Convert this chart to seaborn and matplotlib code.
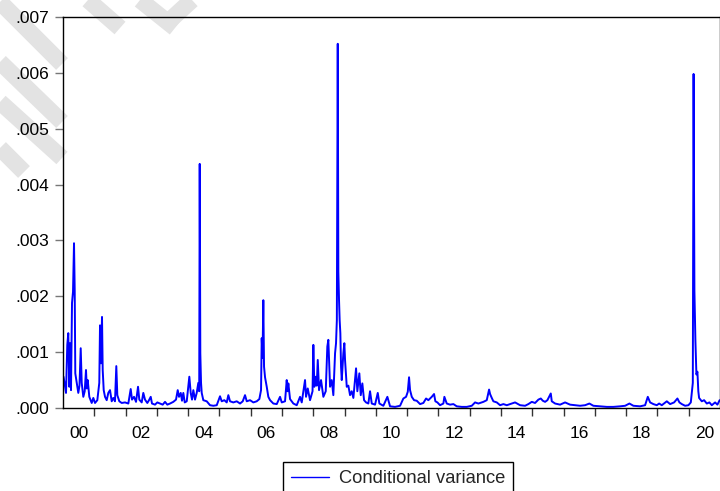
import matplotlib
matplotlib.use("Agg")
import numpy as np
import pandas as pd
import seaborn as sns
import matplotlib.pyplot as plt
from matplotlib.ticker import FixedLocator, FixedFormatter, FuncFormatter, NullFormatter
from matplotlib.lines import Line2D

# ---------------- data (decimal year, conditional variance) ----------------
years = [
    # 2000
    2000.016, 2000.048, 2000.096, 2000.137, 2000.169, 2000.201, 2000.224, 2000.256, 2000.288, 2000.320,
    2000.352, 2000.374, 2000.393, 2000.438, 2000.489, 2000.527, 2000.566, 2000.598, 2000.649, 2000.694,
    2000.735, 2000.761, 2000.790, 2000.841, 2000.918, 2000.969,
    # 2001
    2001.023, 2001.097, 2001.160, 2001.183, 2001.215, 2001.247, 2001.269, 2001.301, 2001.343, 2001.397,
    2001.448, 2001.503, 2001.557, 2001.608, 2001.662, 2001.704, 2001.736, 2001.800, 2001.877, 2001.982,
    # 2002-2003
    2002.088, 2002.164, 2002.206, 2002.270, 2002.334, 2002.398, 2002.439, 2002.516, 2002.567, 2002.621,
    2002.695, 2002.749, 2002.804, 2002.845, 2002.941,
    2003.015, 2003.101, 2003.187, 2003.261, 2003.334, 2003.421, 2003.526, 2003.612, 2003.667, 2003.708,
    2003.763, 2003.804, 2003.846, 2003.891, 2003.955,
    # 2004
    2004.038, 2004.082, 2004.124, 2004.166, 2004.220, 2004.274, 2004.325, 2004.354, 2004.370, 2004.389,
    2004.412, 2004.434, 2004.485, 2004.594, 2004.699, 2004.805, 2004.914,
    # 2005
    2005.019, 2005.073, 2005.157, 2005.233, 2005.285, 2005.339, 2005.444, 2005.553, 2005.659, 2005.745,
    2005.818, 2005.873, 2005.978,
    # 2006
    2006.084, 2006.192, 2006.276, 2006.330, 2006.352, 2006.378, 2006.403, 2006.426, 2006.458, 2006.512,
    2006.563, 2006.618, 2006.723, 2006.832, 2006.937, 2006.992,
    # 2007
    2007.097, 2007.151, 2007.177, 2007.203, 2007.257, 2007.363, 2007.471, 2007.577, 2007.631, 2007.736,
    2007.768, 2007.823, 2007.896, 2007.976,
    # 2008
    2008.002, 2008.034, 2008.079, 2008.111, 2008.143, 2008.184, 2008.248, 2008.322, 2008.398, 2008.449,
    2008.481, 2008.536, 2008.590, 2008.641, 2008.696, 2008.727, 2008.753, 2008.782, 2008.801, 2008.823,
    2008.843, 2008.865, 2008.887, 2008.910, 2008.961, 2008.993,
    # 2009
    2009.015, 2009.070, 2009.121, 2009.175, 2009.229, 2009.281, 2009.367, 2009.408, 2009.472, 2009.517,
    2009.568, 2009.623, 2009.686, 2009.760, 2009.814, 2009.869, 2009.974,
    # 2010
    2010.061, 2010.112, 2010.240, 2010.368, 2010.454, 2010.614, 2010.774, 2010.879, 2010.965,
    # 2011
    2011.020, 2011.061, 2011.093, 2011.148, 2011.221, 2011.307, 2011.413, 2011.518, 2011.605, 2011.678,
    2011.787, 2011.860, 2011.902, 2011.966,
    # 2012
    2012.052, 2012.158, 2012.190, 2012.266, 2012.372, 2012.478, 2012.586, 2012.746, 2012.906,
    # 2013
    2013.066, 2013.171, 2013.277, 2013.437, 2013.545, 2013.619, 2013.651, 2013.705, 2013.756, 2013.865,
    2013.970,
    # 2014
    2014.076, 2014.185, 2014.290, 2014.450, 2014.610, 2014.770, 2014.875, 2014.984,
    # 2015
    2015.089, 2015.195, 2015.272, 2015.336, 2015.409, 2015.483, 2015.591, 2015.623, 2015.729, 2015.889,
    # 2016-2017
    2016.048, 2016.208, 2016.368, 2016.528, 2016.688, 2016.825, 2016.953,
    2017.167, 2017.382, 2017.593, 2017.807, 2017.967,
    # 2018-2019
    2018.104, 2018.232, 2018.446, 2018.606, 2018.692, 2018.766, 2018.871, 2018.980,
    2019.054, 2019.140, 2019.300, 2019.405, 2019.533, 2019.639, 2019.703, 2019.779, 2019.885, 2019.990,
    # 2020
    2020.067, 2020.131, 2020.156, 2020.182, 2020.214, 2020.246, 2020.278, 2020.307, 2020.332, 2020.418,
    2020.492, 2020.578, 2020.661, 2020.738, 2020.844, 2020.917, 2020.988,
]

variance = [
    # 2000
    0.00056, 0.00045, 0.00027, 0.00113, 0.00134, 0.00038, 0.00116, 0.00032, 0.00188, 0.00208,
    0.00295, 0.00211, 0.00062, 0.00045, 0.00027, 0.00040, 0.00107, 0.00045, 0.00020, 0.00030,
    0.00068, 0.00035, 0.00050, 0.00020, 0.00009, 0.00018,
    # 2001
    0.00009, 0.00014, 0.00045, 0.00148, 0.00080, 0.00163, 0.00068, 0.00032, 0.00020, 0.00014,
    0.00027, 0.00032, 0.00012, 0.00018, 0.00012, 0.00075, 0.00023, 0.00012, 0.00009, 0.00010,
    # 2002-2003
    0.00008, 0.00034, 0.00015, 0.00020, 0.00011, 0.00038, 0.00015, 0.00010, 0.00027, 0.00015,
    0.00009, 0.00014, 0.00020, 0.00008, 0.00006,
    0.00010, 0.00008, 0.00006, 0.00011, 0.00006, 0.00008, 0.00011, 0.00015, 0.00032, 0.00020,
    0.00027, 0.00013, 0.00027, 0.00010, 0.00012,
    # 2004
    0.00056, 0.00027, 0.00015, 0.00032, 0.00015, 0.00027, 0.00045, 0.00030, 0.00437, 0.00098,
    0.00045, 0.00027, 0.00014, 0.00012, 0.00005, 0.00004, 0.00005,
    # 2005
    0.00021, 0.00012, 0.00014, 0.00010, 0.00023, 0.00012, 0.00010, 0.00012, 0.00008, 0.00012,
    0.00023, 0.00012, 0.00014,
    # 2006
    0.00010, 0.00012, 0.00016, 0.00032, 0.00125, 0.00090, 0.00193, 0.00074, 0.00055, 0.00038,
    0.00020, 0.00014, 0.00008, 0.00007, 0.00020, 0.00010,
    # 2007
    0.00012, 0.00050, 0.00030, 0.00044, 0.00016, 0.00008, 0.00005, 0.00020, 0.00010, 0.00050,
    0.00020, 0.00035, 0.00014, 0.00030,
    # 2008
    0.00113, 0.00038, 0.00056, 0.00040, 0.00086, 0.00032, 0.00050, 0.00020, 0.00030, 0.00110,
    0.00122, 0.00038, 0.00050, 0.00023, 0.00098, 0.00116, 0.00157, 0.00652, 0.00244, 0.00193,
    0.00157, 0.00134, 0.00074, 0.00050, 0.00098, 0.00116,
    # 2009
    0.00086, 0.00038, 0.00040, 0.00023, 0.00030, 0.00018, 0.00071, 0.00030, 0.00062, 0.00023,
    0.00044, 0.00014, 0.00010, 0.00008, 0.00030, 0.00008, 0.00006,
    # 2010
    0.00027, 0.00008, 0.00004, 0.00020, 0.00003, 0.00002, 0.00004, 0.00017, 0.00020,
    # 2011
    0.00029, 0.00055, 0.00032, 0.00020, 0.00014, 0.00013, 0.00007, 0.00009, 0.00017, 0.00014,
    0.00020, 0.00025, 0.00012, 0.00010,
    # 2012
    0.00005, 0.00008, 0.00020, 0.00008, 0.00006, 0.00007, 0.00003, 0.00002, 0.00002,
    # 2013
    0.00004, 0.00010, 0.00008, 0.00011, 0.00014, 0.00033, 0.00025, 0.00018, 0.00012, 0.00010,
    0.00005,
    # 2014
    0.00007, 0.00005, 0.00007, 0.00010, 0.00005, 0.00004, 0.00007, 0.00011,
    # 2015
    0.00009, 0.00015, 0.00017, 0.00013, 0.00011, 0.00014, 0.00026, 0.00012, 0.00008, 0.00006,
    # 2016-2017
    0.00010, 0.00006, 0.00005, 0.00004, 0.00005, 0.00008, 0.00004,
    0.00003, 0.00002, 0.00002, 0.00003, 0.00004,
    # 2018-2019
    0.00008, 0.00004, 0.00003, 0.00005, 0.00020, 0.00010, 0.00007, 0.00005,
    0.00008, 0.00005, 0.00012, 0.00007, 0.00010, 0.00017, 0.00010, 0.00007, 0.00004, 0.00005,
    # 2020
    0.00010, 0.00045, 0.00598, 0.00210, 0.00120, 0.00060, 0.00065, 0.00030, 0.00018, 0.00012,
    0.00014, 0.00008, 0.00010, 0.00005, 0.00010, 0.00006, 0.00014,
]

label_years = [2000, 2002, 2004, 2006, 2008, 2010, 2012, 2014, 2016, 2018, 2020]
x_tick_labels = ["00", "02", "04", "06", "08", "10", "12", "14", "16", "18", "20"]
y_ticks = [0.000, 0.001, 0.002, 0.003, 0.004, 0.005, 0.006, 0.007]
series_name = "Conditional variance"

assert len(years) == len(variance)

# ---------------- figure ----------------
sns.set_theme(style="white")
plt.rcParams["font.family"] = ["Liberation Sans", "DejaVu Sans"]

W, H = 720, 491
fig = plt.figure(figsize=(W / 100, H / 100), dpi=100)
fig.patch.set_facecolor("white")

# faint watermark stripes (background decoration)
def px(x, y):
    return x / W, 1 - y / H

stripes = [((0, 2), (62, 64)), ((0, 62), (62, 122)), ((0, 102), (62, 158)),
           ((0, 148), (24, 172)), ((88, 0), (120, 28)), ((140, 0), (175, 28)),
           ((168, 22), (192, 0))]
for (a, b) in stripes:
    (x0, y0), (x1, y1) = px(*a), px(*b)
    fig.add_artist(Line2D([x0, x1], [y0, y1], transform=fig.transFigure,
                          color="#e3e3e3", lw=12, solid_capstyle="butt", zorder=-5))

ax = fig.add_axes([63 / W, 1 - 408 / H, 657 / W, 391 / H])
ax.set_facecolor("none")

df = pd.DataFrame({"year": years, "variance": variance})
sns.lineplot(data=df, x="year", y="variance", ax=ax, color="#0000ff",
             linewidth=1.4, label=series_name, legend=False)

ax.set_xlim(2000, 2021)
ax.set_ylim(0, 0.007)
ax.set_xlabel("")
ax.set_ylabel("")

ax.xaxis.set_major_locator(FixedLocator(list(range(2001, 2021))))
ax.xaxis.set_major_formatter(NullFormatter())
ax.xaxis.set_minor_locator(FixedLocator([y + 0.5 for y in label_years]))
ax.xaxis.set_minor_formatter(FixedFormatter(x_tick_labels))
ax.tick_params(axis="x", which="major", bottom=True, direction="out",
               length=6, width=1, color="#333333")
ax.tick_params(axis="x", which="minor", bottom=True, length=0, pad=13,
               labelsize=12.5, labelcolor="black")

ax.yaxis.set_major_locator(FixedLocator(y_ticks))
ax.yaxis.set_major_formatter(FuncFormatter(lambda v, p: f"{v:.3f}"[1:]))
ax.tick_params(axis="y", which="major", left=True, direction="out",
               length=6, width=1, color="#777777", labelsize=12.5,
               pad=4, labelcolor="black")

for s in ax.spines.values():
    s.set_color("black")
    s.set_linewidth(1.0)
    s.set_visible(True)

handles, labels = ax.get_legend_handles_labels()
leg = fig.legend(handles, labels, loc="upper center",
                 bbox_to_anchor=(398 / W, 1 - 462 / H), frameon=True,
                 fancybox=False, edgecolor="black", framealpha=1,
                 fontsize=13.2, handlelength=2.1, handletextpad=0.5,
                 borderpad=0.45, borderaxespad=0)
leg.get_frame().set_linewidth(1.0)
for l in leg.get_lines():
    l.set_linewidth(1.0)

fig.savefig("out.png", dpi=100)
